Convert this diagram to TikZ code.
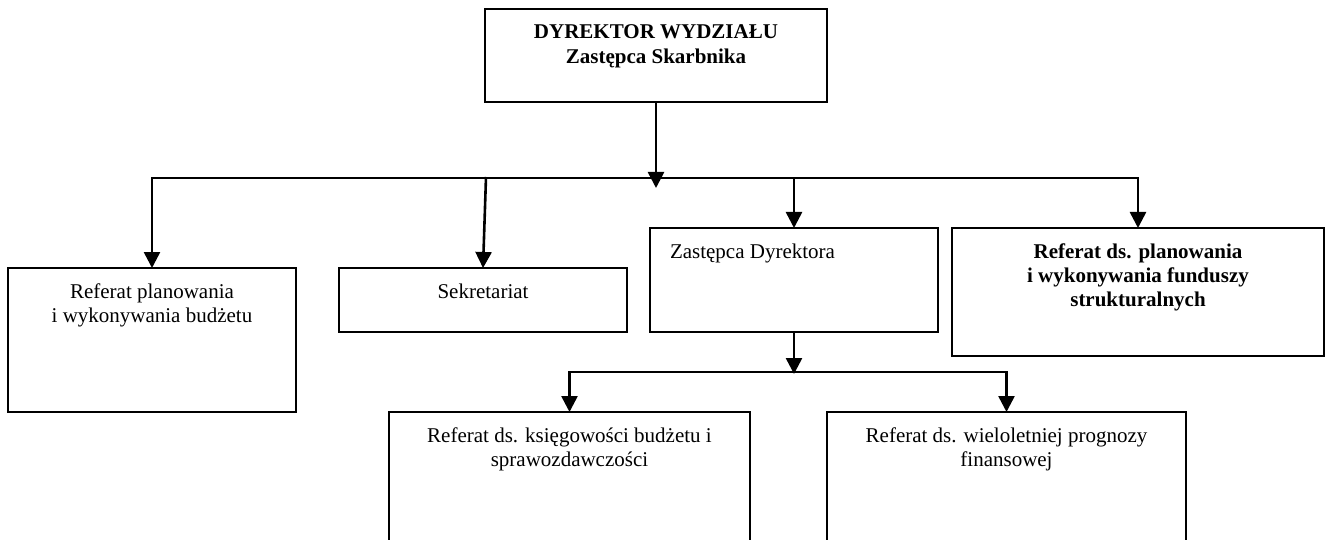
\documentclass[tikz,border=0pt]{standalone}
\usepackage{fontspec}
\setmainfont{Liberation Serif}
\usetikzlibrary{arrows.meta}

% #1 width, #2 height, #3 first baseline below top edge, #4 alignment, #5 text
\newcommand\orgtext[5]{%
  \parbox[c][#2][t]{#1}{\vspace*{\dimexpr#3-\ht\strutbox\relax}#4\strut #5}}

\begin{document}
\begin{tikzpicture}[x=1pt,y=-1pt,
  box/.style={draw, line width=1.1pt, inner sep=0pt, outer sep=0pt},
  link/.style={line width=2.6pt, line join=miter},
  tip/.style={Triangle[length=16pt,width=16pt]},
  arr/.style={link, -{Triangle[length=16pt,width=16pt]}},
  arrs/.style={link, {Triangle[length=16pt,width=16pt]}-{Triangle[length=16pt,width=16pt]}},
  font=\fontsize{21}{24}\selectfont]
\clip (0,0) rectangle (1325,540);

% boxes
\node[box] (dir) at (656,55.5)
  {\orgtext{342pt}{93pt}{30pt}{\centering}{\bfseries DYREKTOR WYDZIAŁU\\[1pt]Zastępca Skarbnika}};
\node[box] (b1) at (152,340)
  {\orgtext{288pt}{144pt}{30pt}{\centering}{Referat planowania\\i wykonywania budżetu}};
\node[box] (b2) at (483,300)
  {\orgtext{288pt}{64pt}{30pt}{\centering}{Sekretariat}};
\node[box] (b3) at (794,280)
  {\orgtext{288pt}{104pt}{30pt}{\raggedright\leftskip=20pt\relax}{Zastępca Dyrektora}};
\node[box] (b4) at (1138,292)
  {\orgtext{372pt}{128pt}{30pt}{\centering}{\bfseries Referat ds. planowania\\i wykonywania funduszy\\strukturalnych}};
\node[box] (b5) at (569.5,486)
  {\orgtext{361pt}{148pt}{30pt}{\centering}{Referat ds. księgowości budżetu i\\sprawozdawczości}};
\node[box] (b6) at (1006.5,486)
  {\orgtext{359pt}{148pt}{30pt}{\centering}{Referat ds. wieloletniej prognozy\\finansowej}};

% connectors
\coordinate (bus) at (0,178);
\coordinate (hub) at (656,188);
\coordinate (sekTop) at (486,177);
\coordinate (sub) at (0,372);
\coordinate (hubB) at (794,374);

\draw[arr] (dir.south) -- (hub);
\draw[arrs] (b1.north) |- (b4.north |- bus) -- (b4.north);
\draw[arr] (sekTop) -- (b2.north);
\draw[arr] (b3.north |- bus) -- (b3.north);
\draw[arr] (b3.south) -- (hubB);
\draw[arrs] (b5.north) |- (b6.north |- sub) -- (b6.north);
\end{tikzpicture}
\end{document}
